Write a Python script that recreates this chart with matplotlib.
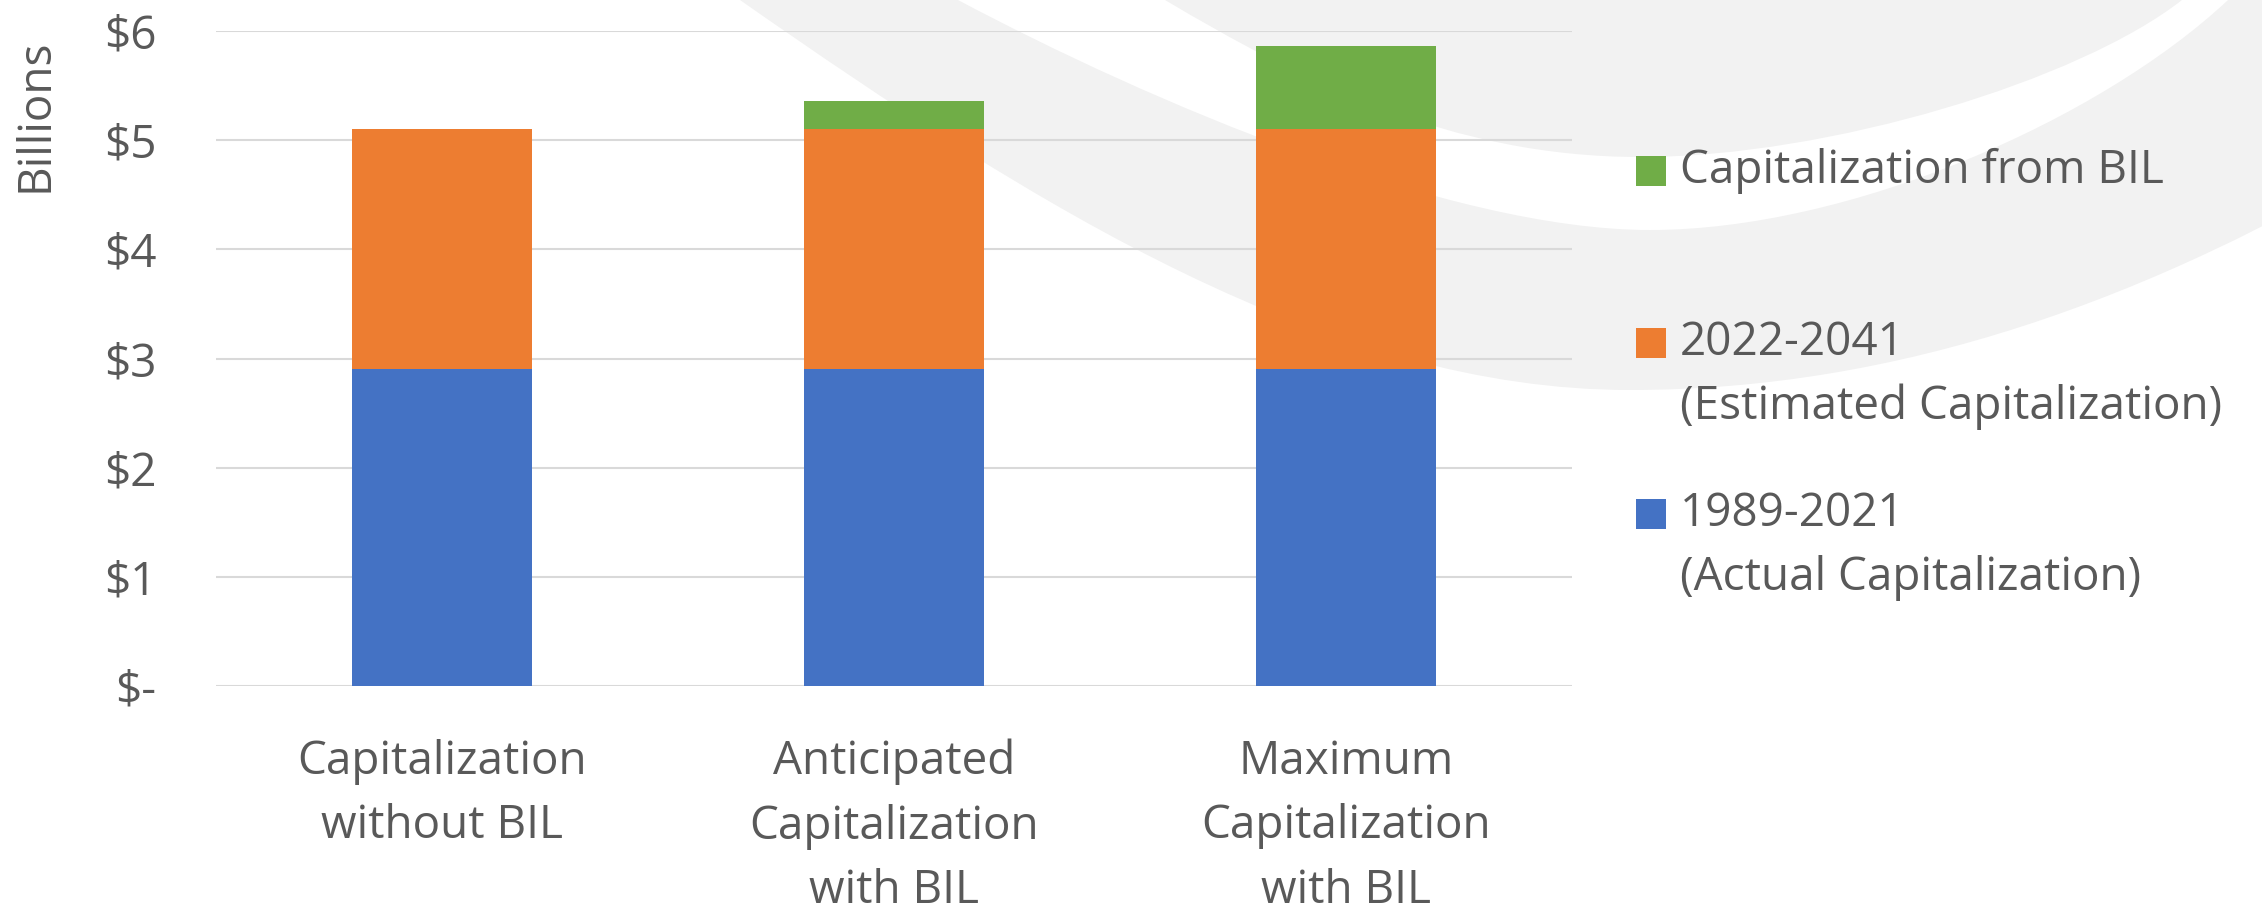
import numpy as np
import matplotlib.pyplot as plt
from matplotlib.patches import PathPatch, Rectangle
from matplotlib.path import Path

categories = ["Capitalization\nwithout BIL",
              "Anticipated\nCapitalization\nwith BIL",
              "Maximum\nCapitalization\nwith BIL"]
actual = [2.9, 2.9, 2.9]
estimated = [2.2, 2.2, 2.2]
from_bil = [0.0, 0.26, 0.76]
legend_labels = ["Capitalization from BIL",
                 "2022-2041\n(Estimated Capitalization)",
                 "1989-2021\n(Actual Capitalization)"]
legend_colors = ["#70AD47", "#ED7D31", "#4472C4"]
yticks = [0, 1, 2, 3, 4, 5, 6]
ytick_labels = ["$-", "$1", "$2", "$3", "$4", "$5", "$6"]

W, H = 2262, 905
TXT = "#595959"
plt.rcParams['font.family'] = ['Open Sans', 'DejaVu Sans']

fig = plt.figure(figsize=(W / 100, H / 100), dpi=100)


def px(x, y):
    return (x / W, 1 - y / H)


def swoosh(points, color):
    # points: list of (code, (x, y)) in pixel coords
    verts = [px(*p) for _, p in points]
    codes = [c for c, _ in points]
    fig.add_artist(PathPatch(Path(verts, codes), facecolor=color, edgecolor='none',
                             transform=fig.transFigure, zorder=-2))


M, L, C, Z = Path.MOVETO, Path.LINETO, Path.CURVE4, Path.CLOSEPOLY
swoosh([(M, (740, -10)), (L, (740, 0)),
        (C, (1040, 210)), (C, (1330, 390)), (C, (1630, 390)),
        (C, (1900, 390)), (C, (2150, 300)), (C, (2400, 150)),
        (L, (2400, -10)), (Z, (740, -10))], "#F2F2F2")
swoosh([(M, (958, -10)), (L, (958, 0)),
        (C, (1150, 102)), (C, (1450, 230)), (C, (1650, 230)),
        (C, (1850, 230)), (C, (2100, 120)), (C, (2228, 0)),
        (L, (2228, -10)), (Z, (958, -10))], "white")
swoosh([(M, (1165, -10)), (L, (1165, 0)),
        (C, (1300, 80)), (C, (1450, 157)), (C, (1640, 157)),
        (C, (1830, 157)), (C, (2080, 80)), (C, (2182, 0)),
        (L, (2182, -10)), (Z, (1165, -10))], "#F2F2F2")

x0, y0 = px(216, 686)
x1, y1 = px(1572, 31)
ax = fig.add_axes([x0, y0, x1 - x0, y1 - y0])
ax.set_facecolor('none')

x = np.arange(len(categories))
ax.bar(x, actual, 0.4, color=legend_colors[2], zorder=3)
ax.bar(x, estimated, 0.4, bottom=actual, color=legend_colors[1], zorder=3)
ax.bar(x, from_bil, 0.4, bottom=np.add(actual, estimated), color=legend_colors[0], zorder=3)

ax.set_xlim(-0.5, 2.5)
ax.set_ylim(0, 6)
ax.set_yticks(yticks)
ax.set_yticklabels(ytick_labels)
ax.set_xticks(x)
ax.set_xticklabels(categories, linespacing=1.53)
ax.tick_params(axis='y', length=0, pad=43, labelsize=33, labelcolor=TXT)
ax.tick_params(axis='x', length=0, pad=38, labelsize=33, labelcolor=TXT)
ax.grid(axis='y', color='#D9D9D9', linewidth=1.5, zorder=0)
for s in ax.spines.values():
    s.set_visible(False)

fig.text(36 / W, 1 - 115 / H, "Billions", rotation=90, ha='center', va='center',
         fontsize=33, color=TXT)

# legend, square aligned with first line like in Excel
leg_y = [171, 343, 514]
for lab, col, yc in zip(legend_labels, legend_colors, leg_y):
    fig.add_artist(Rectangle(px(1636, yc + 15), 30 / W, 30 / H, facecolor=col,
                             edgecolor='none', transform=fig.transFigure))
    for i, line in enumerate(lab.split("\n")):
        fig.text(1680 / W, 1 - (yc + i * 64) / H, line, ha='left', va='center',
                 fontsize=33, color=TXT)

fig.savefig("out.png", dpi=100)
